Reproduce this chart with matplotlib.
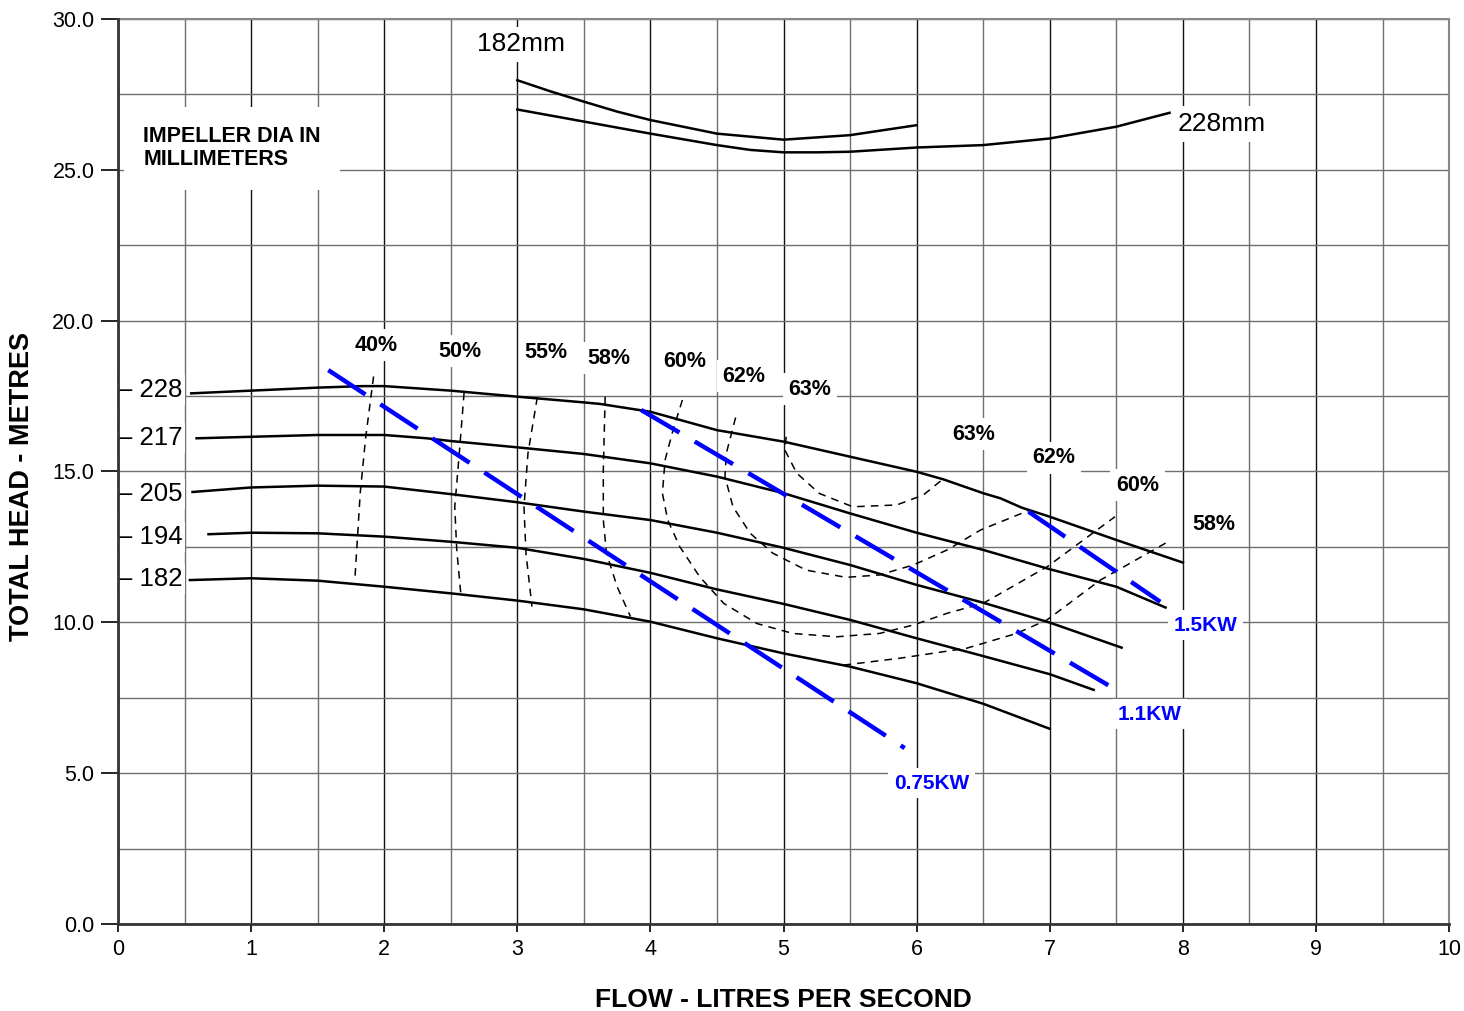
import matplotlib

matplotlib.use("Agg")
import matplotlib.pyplot as plt
from matplotlib.ticker import MultipleLocator

plt.rcParams["font.family"] = ["Liberation Sans", "DejaVu Sans"]

# ---- head / flow curves per impeller diameter (mm) -----------------------
FLOW_228 = [0.55, 1.0, 1.5, 1.84, 2.0, 2.5, 3.0, 3.5, 3.62, 4.0, 4.5, 5.0, 5.5, 6.0,
            6.2, 6.5, 6.63, 6.79, 7.0, 7.5, 8.0]
HEAD_228 = [17.59, 17.68, 17.78, 17.83, 17.83, 17.68, 17.48, 17.29, 17.24, 16.98, 16.37,
            15.99, 15.49, 14.99, 14.74, 14.28, 14.11, 13.8, 13.5, 12.73, 11.98]
FLOW_217 = [0.59, 1.0, 1.5, 2.0, 2.32, 2.5, 3.0, 3.5, 4.0, 4.5, 5.0, 5.5, 6.0, 6.5,
            7.0, 7.5, 7.87]
HEAD_217 = [16.10, 16.15, 16.21, 16.21, 16.10, 16.01, 15.80, 15.58, 15.27, 14.83, 14.28,
            13.61, 12.97, 12.40, 11.76, 11.18, 10.49]
FLOW_205 = [0.56, 1.0, 1.5, 2.0, 2.5, 3.0, 3.5, 4.0, 4.5, 5.0, 5.5, 6.0, 6.5, 7.0, 7.54]
HEAD_205 = [14.32, 14.47, 14.53, 14.50, 14.25, 13.98, 13.67, 13.39, 12.97, 12.47, 11.9,
            11.24, 10.65, 9.99, 9.16]
FLOW_194 = [0.68, 1.0, 1.5, 2.0, 2.5, 3.0, 3.5, 4.0, 4.5, 5.0, 5.5, 6.0, 6.5, 7.0, 7.33]
HEAD_194 = [12.92, 12.97, 12.95, 12.84, 12.67, 12.47, 12.10, 11.64, 11.09, 10.61, 10.08,
            9.47, 8.88, 8.28, 7.76]
FLOW_182 = [0.54, 1.0, 1.5, 2.0, 2.5, 3.0, 3.5, 4.0, 4.5, 5.0, 5.5, 6.0, 6.5, 7.0]
HEAD_182 = [11.40, 11.46, 11.38, 11.18, 10.96, 10.72, 10.43, 10.02, 9.47, 8.97, 8.53,
            7.98, 7.3, 6.47]
DIAMETERS = ["228", "217", "205", "194", "182"]
DIA_LABEL_HEAD = [17.7, 16.11, 14.25, 12.83, 11.43]

# ---- upper curves --------------------------------------------------------
TOP_FLOW_182 = [3.0, 3.25, 3.5, 3.75, 4.0, 4.5, 5.0, 5.5, 6.0]
TOP_HEAD_182 = [27.97, 27.6, 27.26, 26.93, 26.65, 26.2, 26.0, 26.15, 26.48]
TOP_FLOW_228 = [3.0, 3.5, 4.0, 4.5, 4.75, 5.0, 5.25, 5.5, 6.0, 6.5, 7.0, 7.5, 7.9]
TOP_HEAD_228 = [27.0, 26.6, 26.2, 25.82, 25.66, 25.58, 25.58, 25.6, 25.74, 25.82, 26.04,
                26.43, 26.89]

# ---- efficiency iso-lines ------------------------------------------------
EFF_40_Q = [1.92, 1.86, 1.82, 1.78]
EFF_40_H = [18.15, 16.1, 14.3, 11.45]
EFF_50_Q = [2.60, 2.56, 2.53, 2.545, 2.575]
EFF_50_H = [17.61, 15.38, 13.83, 12.4, 10.96]
EFF_55_Q = [3.15, 3.08, 3.05, 3.065, 3.11]
EFF_55_H = [17.46, 15.6, 13.83, 12.29, 10.52]
EFF_58L_Q = [3.66, 3.646, 3.646, 3.67, 3.75, 3.85]
EFF_58L_H = [17.48, 15.05, 13.4, 12.29, 11.18, 10.19]
EFF_58R_Q = [5.45, 5.875, 6.375, 6.75, 6.98, 7.38, 7.88]
EFF_58R_H = [8.58, 8.81, 9.14, 9.63, 10.08, 11.4, 12.65]
EFF_60_Q = [4.24, 4.17, 4.11, 4.09, 4.13, 4.22, 4.37, 4.55, 4.80, 5.07, 5.40,
            5.72, 5.975, 6.23, 6.5, 6.98, 7.49]
EFF_60_H = [17.37, 16.37, 15.38, 14.28, 13.39, 12.51, 11.51, 10.63, 9.96, 9.63, 9.52,
            9.63, 9.91, 10.30, 10.63, 11.84, 13.5]
EFF_62_Q = [4.64, 4.57, 4.56, 4.62, 4.75, 4.92, 5.17, 5.47, 5.72, 5.975, 6.23, 6.48, 6.85]
EFF_62_H = [16.79, 15.6, 14.83, 13.83, 12.95, 12.29, 11.73, 11.49, 11.57, 11.9, 12.4,
            13.06, 13.72]
EFF_63_Q = [5.02, 5.01, 5.10, 5.27, 5.52, 5.85, 6.05, 6.19]
EFF_63_H = [16.15, 15.71, 14.94, 14.27, 13.83, 13.89, 14.22, 14.72]

# ---- power lines ---------------------------------------------------------
KW075_Q = [1.58, 5.91]
KW075_H = [18.36, 5.83]
KW11_Q = [3.93, 7.48]
KW11_H = [17.04, 7.81]
KW15_Q = [6.84, 7.83]
KW15_H = [13.67, 10.68]

EFF_LABELS = ["40%", "50%", "55%", "58%", "60%", "62%", "63%", "63%", "62%", "60%", "58%"]
EFF_LABEL_Q = [1.94, 2.57, 3.215, 3.69, 4.26, 4.70, 5.20, 6.43, 7.03, 7.66, 8.23]
EFF_LABEL_H = [19.19, 18.99, 18.93, 18.76, 18.63, 18.16, 17.73, 16.24, 15.45, 14.55, 13.23]
KW_LABELS = ["1.5KW", "1.1KW", "0.75KW"]
KW_LABEL_Q = [8.17, 7.75, 6.11]
KW_LABEL_H = [9.91, 6.96, 4.67]

BLUE = "#0000ff"
WHITE_BOX = dict(fc="white", ec="none", pad=4)

fig = plt.figure(figsize=(14.64, 10.11), dpi=100)
ax = fig.add_axes([0.0806, 0.0861, 0.9092, 0.8951])
ax.set_xlim(0, 10)
ax.set_ylim(0, 30)

ax.xaxis.set_major_locator(MultipleLocator(1))
ax.xaxis.set_minor_locator(MultipleLocator(0.5))
ax.yaxis.set_minor_locator(MultipleLocator(2.5))
ax.set_yticks(range(0, 31, 5))
ax.set_yticklabels([f"{v:.1f}" for v in range(0, 31, 5)])
ax.grid(which="major", axis="x", color="#111111", lw=1.0, zorder=0)
ax.grid(which="minor", axis="x", color="#707070", lw=1.0, zorder=0)
ax.grid(which="both", axis="y", color="#707070", lw=1.0, zorder=0)
ax.tick_params(which="major", axis="y", length=12, width=1.2, labelsize=15.5, pad=5)
ax.tick_params(which="major", axis="x", length=6, width=1.2, labelsize=15.5, pad=5)
ax.tick_params(which="minor", length=0)
for side in ("left", "bottom"):
    ax.spines[side].set_color("#333333")
    ax.spines[side].set_linewidth(2)
    ax.spines[side].set_zorder(10)
for side in ("top", "right"):
    ax.spines[side].set_color("#888888")
    ax.spines[side].set_linewidth(1.5)

ax.set_xlabel("FLOW - LITRES PER SECOND", fontsize=19, fontweight="bold", labelpad=20)
ax.set_ylabel("TOTAL HEAD - METRES", fontsize=19.5, fontweight="bold")
ax.yaxis.set_label_coords(-0.062, 0.483)

# head curves
curves = [(FLOW_228, HEAD_228), (FLOW_217, HEAD_217), (FLOW_205, HEAD_205),
          (FLOW_194, HEAD_194), (FLOW_182, HEAD_182)]
for q, h in curves:
    ax.plot(q, h, color="black", lw=1.8, zorder=3, solid_joinstyle="round")
ax.plot(TOP_FLOW_182, TOP_HEAD_182, color="black", lw=1.8, zorder=3)
ax.plot(TOP_FLOW_228, TOP_HEAD_228, color="black", lw=1.8, zorder=3)

# efficiency contours
eff = [(EFF_40_Q, EFF_40_H), (EFF_50_Q, EFF_50_H), (EFF_55_Q, EFF_55_H),
       (EFF_58L_Q, EFF_58L_H), (EFF_58R_Q, EFF_58R_H), (EFF_60_Q, EFF_60_H),
       (EFF_62_Q, EFF_62_H), (EFF_63_Q, EFF_63_H)]
for q, h in eff:
    ax.plot(q, h, color="black", lw=1.1, ls=(0, (5, 4)), zorder=3)

# power lines
for q, h in [(KW075_Q, KW075_H), (KW11_Q, KW11_H), (KW15_Q, KW15_H)]:
    ax.plot(q, h, color=BLUE, lw=3.2, ls=(0, (10, 4)), zorder=4)

# labels
for lab, q, h in zip(EFF_LABELS, EFF_LABEL_Q, EFF_LABEL_H):
    ax.text(q, h, lab, fontsize=15.5, fontweight="bold", ha="center", va="center",
            bbox=WHITE_BOX, zorder=5)
for lab, q, h in zip(KW_LABELS, KW_LABEL_Q, KW_LABEL_H):
    ax.text(q, h, lab, fontsize=15, fontweight="bold", color=BLUE, ha="center",
            va="center", bbox=WHITE_BOX, zorder=5)
for lab, h in zip(DIAMETERS, DIA_LABEL_HEAD):
    ax.text(0.0, h, "\u2013 " + lab, fontsize=18.5, ha="left", va="center",
            bbox=dict(fc="white", ec="none", pad=2), zorder=5)

ax.text(3.03, 29.17, "182mm", fontsize=19, ha="center", va="center",
        bbox=WHITE_BOX, zorder=5)
ax.text(8.29, 26.52, "228mm", fontsize=19, ha="center", va="center",
        bbox=WHITE_BOX, zorder=5)
ax.text(0.19, 25.72, "IMPELLER DIA IN\nMILLIMETERS", fontsize=15.5, fontweight="bold",
        ha="left", va="center", linespacing=1.15,
        bbox=dict(fc="white", ec="none", pad=14), zorder=5)

fig.savefig("out.png", dpi=100, facecolor="white")
